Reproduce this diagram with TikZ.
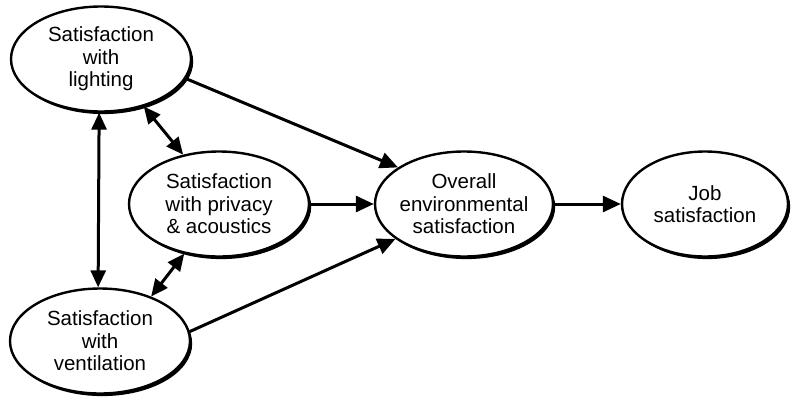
\documentclass[tikz,border=0pt]{standalone}
\usepackage{fontspec}
\setmainfont{Liberation Sans}
\usetikzlibrary{shapes.geometric,arrows.meta,shadows}

\begin{document}
\begin{tikzpicture}[x=1pt,y=-1pt,
		construct/.style={ellipse,draw,line width=2.4pt,fill=white,align=center,
			inner xsep=-4pt,inner ysep=0pt,minimum width=180pt,minimum height=105pt,
			font=\fontsize{20.5}{22.5}\selectfont,
			drop shadow={shadow xshift=2.2pt,shadow yshift=-2.6pt,fill=black,opacity=1}},
		path/.style={line width=3pt,-{Triangle[length=18pt,width=16pt]}},
		corr/.style={line width=3pt,{Triangle[length=17pt,width=15pt]}-{Triangle[length=17pt,width=15pt]}}]
		\useasboundingbox (0,0) rectangle (791,399);
		
		\node[construct] (light) at (101,59) {Satisfaction\\with\\lighting};
		\node[construct] (priv) at (219,204) {Satisfaction\\with privacy\\\& acoustics};
		\node[construct] (vent) at (100,341) {Satisfaction\\with\\ventilation};
		\node[construct,minimum width=178pt] (overall) at (464,204) {Overall\\environmental\\satisfaction};
		\node[construct,minimum width=166pt] (job) at (705,204) {Job\\satisfaction};
		
		\draw[path] (light.-13) -- (overall.151);
		\draw[path] (priv.east) -- (overall.west);
		\draw[path] (vent.6) -- (overall.-153);
		\draw[path] (overall.east) -- (job.west);
		
		\draw[corr] (light.-92) -- (vent.92);
		\draw[corr] (light.-48) -- (priv.126);
		\draw[corr] (vent.41) -- (priv.-125);
	\end{tikzpicture}
\end{document}
